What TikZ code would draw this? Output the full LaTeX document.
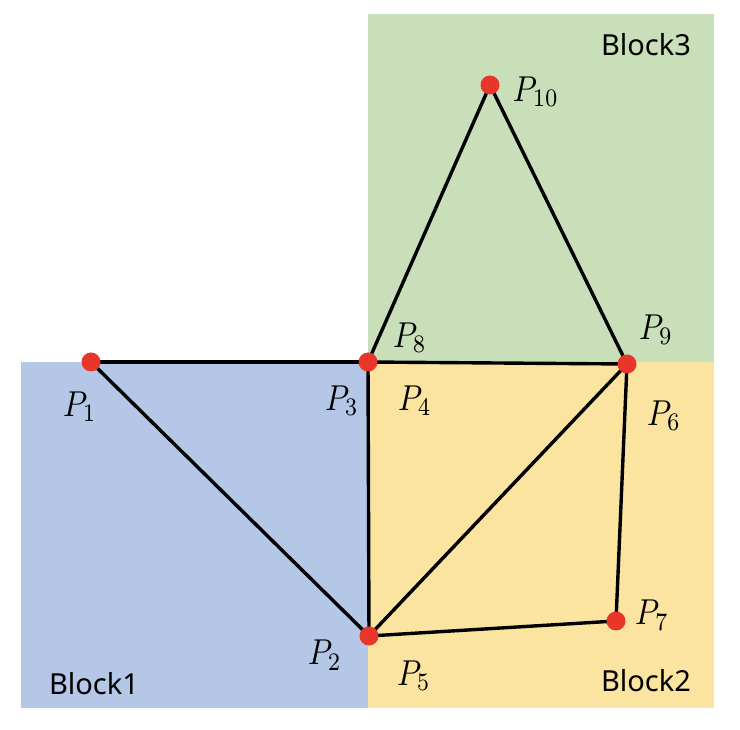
\documentclass[tikz,border=0pt]{standalone}
\usepackage{fontspec}
\usepackage{graphicx}
\setsansfont{Noto Sans}
\definecolor{bblue}{HTML}{B4C7E7}
\definecolor{byellow}{HTML}{FAE4A0}
\definecolor{bgreen}{HTML}{C9DFB9}
\definecolor{dotred}{HTML}{E8362A}
\newcommand{\plab}[1]{\scalebox{3.1}[3.6]{$#1$}}
\tikzset{
  pt/.style={circle, fill=dotred, inner sep=0pt, minimum size=19pt},
  edge/.style={line width=3.4pt, black},
  plabel/.style={inner sep=0pt},
  blabel/.style={inner sep=0pt, font=\sffamily\fontsize{29}{32}\selectfont}
}
\begin{document}
\begin{tikzpicture}[x=1pt, y=-1pt]
\useasboundingbox (0,0) rectangle (740,730);
\fill[bblue] (21,362) rectangle (368,708);
\fill[byellow] (368,362) rectangle (714,708);
\fill[bgreen] (368,14) rectangle (714,362);
\coordinate (c1) at (91,362);
\coordinate (c3) at (368,362);
\coordinate (c9) at (627,364);
\coordinate (c2) at (369,636);
\coordinate (c7) at (616,621);
\coordinate (c10) at (490,85);
\draw[edge] (c1) -- (c3);
\draw[edge] (c3) -- (c9);
\draw[edge] (c1) -- (c2);
\draw[edge] (c3) -- (c2);
\draw[edge] (c2) -- (c9);
\draw[edge] (c9) -- (c7);
\draw[edge] (c2) -- (c7);
\draw[edge] (c3) -- (c10);
\draw[edge] (c10) -- (c9);
\node[pt] (p1) at (c1) {};
\node[pt] (p3) at (c3) {};
\node[pt] (p9) at (c9) {};
\node[pt] (p2) at (c2) {};
\node[pt] (p7) at (c7) {};
\node[pt] (p10) at (c10) {};
\node[plabel] (l1) at (80,407) {\plab{P_1}};
\node[plabel] (l3) at (342,401) {\plab{P_3}};
\node[plabel] (l4) at (415,401) {\plab{P_4}};
\node[plabel] (l8) at (410,338) {\plab{P_8}};
\node[plabel] (l9) at (656,330) {\plab{P_9}};
\node[plabel] (l6) at (664,416) {\plab{P_6}};
\node[plabel] (l2) at (325,655) {\plab{P_2}};
\node[plabel] (l5) at (414,676) {\plab{P_5}};
\node[plabel] (l7) at (652,615) {\plab{P_7}};
\node[plabel] (l10) at (536,92) {\plab{P_{10}}};
\node[blabel] (b1) at (94,684) {Block1};
\node[blabel] (b2) at (646,681) {Block2};
\node[blabel] (b3) at (646,45) {Block3};
\end{tikzpicture}
\end{document}
